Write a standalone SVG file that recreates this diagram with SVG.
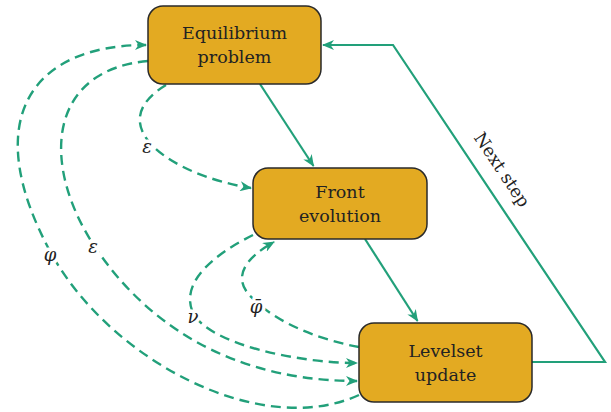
<svg xmlns="http://www.w3.org/2000/svg" width="611" height="412" viewBox="0 0 611 412">
<style>
.box{fill:#e3aa22;stroke:#2a2a2a;stroke-width:1.5}
.lbl{font-family:"DejaVu Serif","Liberation Serif",serif;font-size:17.5px;fill:#222;text-anchor:middle}
.math{font-family:"DejaVu Serif","Liberation Serif",serif;font-style:italic;font-size:18px;fill:#222;text-anchor:middle;stroke:#fff;stroke-width:7px;paint-order:stroke;stroke-linejoin:round}
.solid{fill:none;stroke:#22a07a;stroke-width:2.2}
.dash{fill:none;stroke:#22a07a;stroke-width:2.4;stroke-dasharray:10 6}
</style>
<defs>
<marker id="ah" viewBox="0 0 12 10" refX="11" refY="5" markerWidth="12" markerHeight="10" markerUnits="userSpaceOnUse" orient="auto">
<path d="M0,0 L12,5 L0,10 L3.5,5 Z" fill="#22a07a"/>
</marker>
</defs>
<g id="connectors">
<path class="solid" d="M260,84 L313.5,166" marker-end="url(#ah)"/>
<path class="solid" d="M365,239 L417.5,321" marker-end="url(#ah)"/>
<path class="solid" d="M532,362 L605,362 L393,45 L323,45" marker-end="url(#ah)"/>
<path class="dash" d="M166,85 C100,125 170,175 251,188" marker-end="url(#ah)"/>
<path class="dash" d="M359,395 C260,440 110,360 51,253 C-21,121 30,45 146,45" marker-end="url(#ah)"/>
<path class="dash" d="M148,61 C48,70 40,164 95,247 C125,292 200,381 357,381" marker-end="url(#ah)"/>
<path class="dash" d="M253,235 C217,253 179,281 193,313 C210,345 300,363 357,363" marker-end="url(#ah)"/>
<path class="dash" d="M359,347 C320,340 278,323 257,302 C228,280 245,258 274,242" marker-end="url(#ah)"/>
<text class="math" x="147" y="153">ε</text>
<text class="math" x="93" y="253">ε</text>
<text class="math" x="50" y="261">φ</text>
<text class="math" x="193" y="323">ν</text>
<text class="math" x="256" y="313">φ̄</text>
<text class="lbl" transform="translate(497,173) rotate(56.2)" x="0" y="0" font-size="17">Next step</text>
</g>
<g id="equilibrium">
<rect class="box" x="148" y="6" width="173" height="78" rx="15"/>
<text class="lbl" x="234.5" y="39">Equilibrium</text>
<text class="lbl" x="234.5" y="63">problem</text>
</g>
<g id="front">
<rect class="box" x="253" y="168" width="174" height="71" rx="15"/>
<text class="lbl" x="340" y="198">Front</text>
<text class="lbl" x="340" y="222">evolution</text>
</g>
<g id="levelset">
<rect class="box" x="359" y="323" width="173" height="79" rx="15"/>
<text class="lbl" x="445.5" y="357">Levelset</text>
<text class="lbl" x="445.5" y="381">update</text>
</g>
</svg>
